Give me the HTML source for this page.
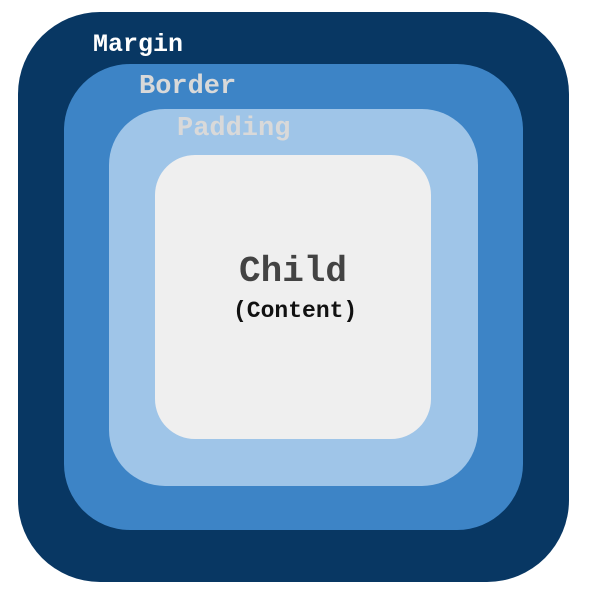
<!DOCTYPE html>
<html><head><style>
body{margin:0;width:595px;height:592px;background:#fff;position:relative;overflow:hidden;font-family:"Liberation Mono",monospace;font-weight:bold}
.b{position:absolute;box-sizing:border-box}
.t{position:absolute;white-space:nowrap;line-height:1}
</style></head><body>
<div class="b" style="left:18px;top:12px;width:551px;height:570px;border-radius:82px;background:#083763"></div>
<div class="b" style="left:64px;top:64px;width:459px;height:466px;border-radius:66px;background:#3d84c6"></div>
<div class="b" style="left:109px;top:109px;width:369px;height:377px;border-radius:56px;background:#9fc5e8"></div>
<div class="b" style="left:155px;top:155px;width:276px;height:284px;border-radius:40px;background:#efefef"></div>
<div class="t" style="left:93px;top:32px;font-size:25px;color:#fff">Margin</div>
<div class="t" style="left:139px;top:74px;font-size:27px;color:#d9d9d9">Border</div>
<div class="t" style="left:177px;top:116px;font-size:27px;color:#d9d9d9">Padding</div>
<div class="t" style="left:239px;top:254px;font-size:36px;color:#434343">Child</div>
<div class="t" style="left:233px;top:300px;font-size:23px;color:#111">(Content)</div>
</body></html>
